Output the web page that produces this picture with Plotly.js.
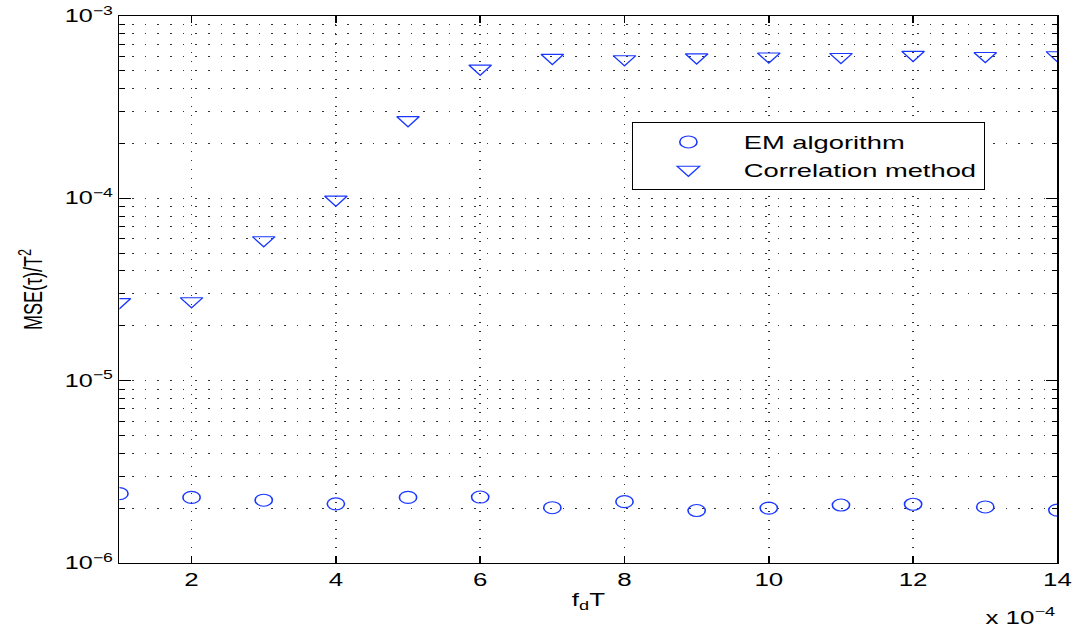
<!DOCTYPE html>
<html>
<head>
<meta charset="utf-8">
<script src="https://cdn.plot.ly/plotly-3.0.1.min.js"></script>
<style>
html,body{margin:0;padding:0;background:#fff;overflow:hidden;}
#wrap{width:1079px;height:630px;overflow:hidden;}
/* The reference figure is horizontally stretched; reproduce that stretch */
#chart{width:750px;height:630px;transform:scaleX(1.43867);transform-origin:0 0;}
</style>
</head>
<body>
<div id="wrap"><div id="chart"></div></div>
<script>
// Data (x in units of 1e-4)
var fdT = [1,2,3,4,5,6,7,8,9,10,11,12,13,14];
var emAlgorithm = [2.40e-6,2.29e-6,2.21e-6,2.11e-6,2.29e-6,2.30e-6,2.01e-6,2.17e-6,1.94e-6,2.00e-6,2.08e-6,2.10e-6,2.03e-6,1.95e-6];
var correlationMethod = [2.70e-5,2.73e-5,5.9e-5,9.85e-5,2.69e-4,5.15e-4,5.9e-4,5.8e-4,5.94e-4,6.0e-4,5.97e-4,6.13e-4,6.04e-4,6.1e-4];
var xTickVals = [2,4,6,8,10,12,14];
var xTickText = ['2','4','6','8','10','12','14'];
var yTickVals = [1e-6,1e-5,1e-4,1e-3];
var yTickText = ['10<sup>−6</sup>','10<sup>−5</sup>','10<sup>−4</sup>','10<sup>−3</sup>'];
var yMinorVals = [];
[1e-6,1e-5,1e-4].forEach(function(d){ for (var k=2;k<=9;k++) yMinorVals.push(k*d); });

var blue = 'rgb(25,55,255)';
var font = 'Liberation Sans, Arial, Helvetica, sans-serif';

var traces = [
  {x: fdT, y: emAlgorithm, type:'scatter', mode:'markers', name:'EM algorithm',
   marker:{symbol:'circle-open', size:12, color:blue, line:{width:1.1, color:blue}}},
  {x: fdT, y: correlationMethod, type:'scatter', mode:'markers', name:'Correlation method',
   marker:{symbol:'triangle-down-open', size:13.5, color:blue, line:{width:1.1, color:blue}}}
];

var layout = {
  width:750, height:630,
  margin:{l:83.06, r:14.6, t:15.7, b:66.7},
  paper_bgcolor:'#fff', plot_bgcolor:'#fff',
  font:{family:font, size:17, color:'#000'},
  showlegend:true,
  legend:{x:0.546, y:0.806, xanchor:'left', yanchor:'top',
    bgcolor:'#fff', bordercolor:'#000', borderwidth:1,
    font:{family:font, size:19, color:'#000'},
    itemwidth:67, tracegroupgap:0},
  xaxis:{
    range:[1,14], tickmode:'array', tickvals:xTickVals, ticktext:xTickText,
    ticks:'inside', ticklen:7, tickwidth:1, tickcolor:'#000',
    showline:true, linecolor:'#000', linewidth:1.2, mirror:'ticks',
    showgrid:true, gridcolor:'#333', gridwidth:0.9, griddash:'1.3px,7.7px',
    zeroline:false, tickfont:{size:18},
    title:{text:'f<sub>d</sub>T', font:{size:18}, standoff:4}
  },
  yaxis:{
    type:'log', range:[-6,-3], tickmode:'array', tickvals:yTickVals, ticktext:yTickText,
    ticks:'inside', ticklen:8, tickwidth:1.2, tickcolor:'#000',
    showline:true, linecolor:'#000', linewidth:1.2, mirror:'ticks',
    showgrid:true, gridcolor:'#333', gridwidth:1, griddash:'1.2px,7.6px',
    zeroline:false, tickfont:{size:17.5},
    minor:{tickmode:'array', tickvals:yMinorVals, ticks:'inside', ticklen:4, tickcolor:'#000',
      showgrid:true, gridcolor:'#333', gridwidth:1, griddash:'1.2px,7.6px'},
    title:{text:'MSE(τ)/T<sup>2</sup>', font:{size:18}, standoff:10}
  },
  annotations:[
    {xref:'paper', yref:'paper', x:1, y:0, xanchor:'right', yanchor:'top', yshift:-40,
     text:'x 10<sup>−4</sup>', showarrow:false, font:{size:18, color:'#000'}}
  ]
};

Plotly.newPlot('chart', traces, layout, {displayModeBar:false});
</script>
</body>
</html>
